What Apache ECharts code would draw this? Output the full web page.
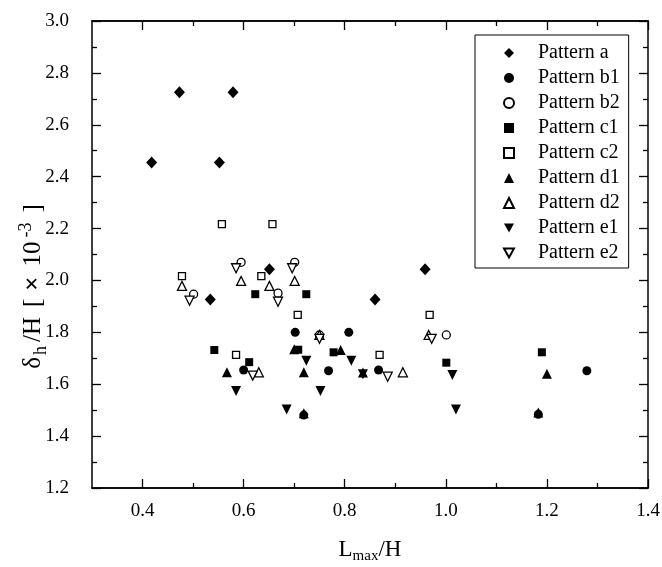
<!DOCTYPE html>
<html>
<head>
<meta charset="utf-8">
<script src="https://cdn.jsdelivr.net/npm/echarts@6/dist/echarts.min.js"></script>
<style>
html, body { margin: 0; padding: 0; background: #ffffff; }
#main { width: 662px; height: 567px; }
</style>
</head>
<body>
<div id="main"></div>
<script>
// Data: [Lmax/H, deltah/H]
var patternA  = [[0.418, 2.455], [0.473, 2.725], [0.552, 2.455], [0.579, 2.725], [0.534, 1.927], [0.651, 2.043], [0.860, 1.927], [0.959, 2.043]];
var patternB1 = [[0.702, 1.800], [0.808, 1.800], [0.600, 1.655], [0.768, 1.652], [0.867, 1.655], [1.279, 1.652], [0.719, 1.481], [1.183, 1.484]];
var patternB2 = [[0.595, 2.070], [0.701, 2.070], [0.501, 1.947], [0.668, 1.951], [0.750, 1.790], [1.001, 1.790]];
var patternC1 = [[0.623, 1.947], [0.724, 1.947], [0.542, 1.732], [0.708, 1.733], [0.611, 1.685], [0.778, 1.723], [1.001, 1.683], [1.190, 1.723]];
var patternC2 = [[0.557, 2.217], [0.657, 2.217], [0.478, 2.017], [0.635, 2.017], [0.707, 1.867], [0.585, 1.713], [0.869, 1.713], [0.968, 1.867]];
var patternD1 = [[0.567, 1.646], [0.700, 1.735], [0.719, 1.646], [0.792, 1.732], [0.836, 1.645], [1.200, 1.640], [0.719, 1.488], [1.183, 1.491]];
var patternD2 = [[0.478, 1.979], [0.595, 1.998], [0.651, 1.979], [0.701, 1.998], [0.630, 1.646], [0.750, 1.790], [0.915, 1.646], [0.966, 1.790]];
var patternE1 = [[0.585, 1.574], [0.685, 1.503], [0.724, 1.690], [0.752, 1.574], [0.813, 1.690], [0.836, 1.638], [1.013, 1.636], [1.020, 1.503]];
var patternE2 = [[0.585, 2.047], [0.696, 2.047], [0.493, 1.922], [0.668, 1.918], [0.618, 1.633], [0.750, 1.775], [0.885, 1.629], [0.972, 1.775]];

var patternNames = ['Pattern a', 'Pattern b1', 'Pattern b2', 'Pattern c1', 'Pattern c2',
                    'Pattern d1', 'Pattern d2', 'Pattern e1', 'Pattern e2'];

// tick positions on the Lmax/H axis
var xMajorTicks = [0.4, 0.6, 0.8, 1.0, 1.2, 1.4];
var xMinorTicks = [0.5, 0.7, 0.9, 1.1, 1.3];

var FONT = 'Liberation Serif';
var DOWN_TRIANGLE = 'path://M0,0 L10,0 L5,9 Z';

function makeSeries(name, data, symbol, filled, size, rotate) {
    return {
        name: name,
        type: 'scatter',
        data: data,
        symbol: symbol,
        symbolSize: size,
        symbolRotate: rotate || 0,
        silent: true,
        itemStyle: {
            color: filled ? '#000000' : '#ffffff',
            borderColor: '#000000',
            borderWidth: filled ? 0 : 1.3,
            opacity: 1
        }
    };
}

// one x axis (bottom or top) carrying a set of custom ticks
function makeXAxis(position, ticks, len, withLabels) {
    return {
        type: 'value',
        position: position,
        min: 0.3,
        max: 1.4,
        axisLine: { show: true, onZero: false, lineStyle: { color: '#000000', width: 1.5 } },
        axisTick: { show: true, inside: true, length: len, customValues: ticks,
                    lineStyle: { color: '#000000', width: 1.3 } },
        axisLabel: { show: withLabels, customValues: ticks, margin: 14,
                     fontFamily: FONT, fontSize: 19, color: '#000000',
                     formatter: function (v) { return v.toFixed(1); } },
        splitLine: { show: false }
    };
}

function makeYAxis(position, withLabels) {
    return {
        type: 'value',
        position: position,
        min: 1.2,
        max: 3.0,
        interval: 0.2,
        axisLine: { show: true, onZero: false, lineStyle: { color: '#000000', width: 1.5 } },
        axisTick: { show: true, inside: true, length: 9, lineStyle: { color: '#000000', width: 1.3 } },
        minorTick: { show: true, splitNumber: 2, length: 5, lineStyle: { color: '#000000', width: 1.3 } },
        axisLabel: { show: withLabels, margin: 23, fontFamily: FONT, fontSize: 19, color: '#000000',
                     formatter: function (v) { return v.toFixed(1); } },
        splitLine: { show: false },
        minorSplitLine: { show: false }
    };
}

function drawChart() {
    var myChart = echarts.init(document.getElementById('main'));

    var xBottom = makeXAxis('bottom', xMajorTicks, 9, true);
    xBottom.name = '{m|L}{s|max}{m|/H}';
    xBottom.nameLocation = 'middle';
    xBottom.nameGap = 47;
    xBottom.nameMoveOverlap = false;
    xBottom.nameTextStyle = {
        rich: {
            m: { fontFamily: FONT, fontSize: 23, color: '#000000' },
            s: { fontFamily: FONT, fontSize: 15, color: '#000000', padding: [14, 0, 0, 0] }
        }
    };

    // y title is set quite loosely in the original, so tokens get some air
    var yLeft = makeYAxis('left', true);
    yLeft.name = '{m|δ}{s|h}{m|/H}{g|[}{b|×}{g|10}{p|-3}{g|]}';
    yLeft.nameLocation = 'middle';
    yLeft.nameGap = 42;
    yLeft.nameMoveOverlap = false;
    yLeft.nameTextStyle = {
        padding: [0, 64, 0, 0],
        rich: {
            m: { fontFamily: FONT, fontSize: 25, color: '#000000' },
            g: { fontFamily: FONT, fontSize: 25, color: '#000000', padding: [0, 0, 0, 10] },
            b: { fontFamily: FONT, fontSize: 25, fontWeight: 'bold', color: '#000000', padding: [0, 0, 0, 8] },
            s: { fontFamily: FONT, fontSize: 18, color: '#000000', padding: [15, 4, 0, 2] },
            p: { fontFamily: FONT, fontSize: 18, color: '#000000', padding: [0, 0, 15, 4] }
        }
    };

    var option = {
        animation: false,
        backgroundColor: '#ffffff',
        grid: {
            left: 92,
            right: 14,
            top: 21,
            bottom: 79,
            containLabel: false,
            outerBoundsMode: 'none'
        },
        legend: {
            orient: 'vertical',
            left: 475,
            top: 35,
            padding: [8, 9, 5, 28],
            itemGap: 5,
            itemWidth: 10,
            itemHeight: 10,
            borderColor: '#000000',
            borderWidth: 1,
            backgroundColor: '#ffffff',
            formatter: function (name) { return '{t|' + name + '}'; },
            textStyle: {
                fontFamily: FONT, fontSize: 20, color: '#000000', lineHeight: 20,
                rich: { t: { fontFamily: FONT, fontSize: 20, lineHeight: 20, padding: [0, 0, 0, 19] } }
            },
            data: [
                patternNames[0], patternNames[1], patternNames[2], patternNames[3],
                patternNames[4], patternNames[5], patternNames[6],
                { name: patternNames[7], icon: DOWN_TRIANGLE },
                { name: patternNames[8], icon: DOWN_TRIANGLE }
            ]
        },
        xAxis: [
            xBottom,
            makeXAxis('bottom', xMinorTicks, 5, false),
            makeXAxis('top', xMajorTicks, 9, false),
            makeXAxis('top', xMinorTicks, 5, false)
        ],
        yAxis: [
            yLeft,
            makeYAxis('right', false)
        ],
        series: [
            makeSeries(patternNames[0], patternA, 'diamond', true, [11, 12], 0),
            makeSeries(patternNames[1], patternB1, 'circle', true, 9, 0),
            makeSeries(patternNames[2], patternB2, 'circle', false, 8, 0),
            makeSeries(patternNames[3], patternC1, 'rect', true, 8, 0),
            makeSeries(patternNames[4], patternC2, 'rect', false, 7, 0),
            makeSeries(patternNames[5], patternD1, 'triangle', true, 10, 0),
            makeSeries(patternNames[6], patternD2, 'triangle', false, 9, 0),
            makeSeries(patternNames[7], patternE1, 'triangle', true, 10, 180),
            makeSeries(patternNames[8], patternE2, 'triangle', false, 9, 180)
        ]
    };

    myChart.setOption(option);
}

drawChart();
</script>
</body>
</html>
